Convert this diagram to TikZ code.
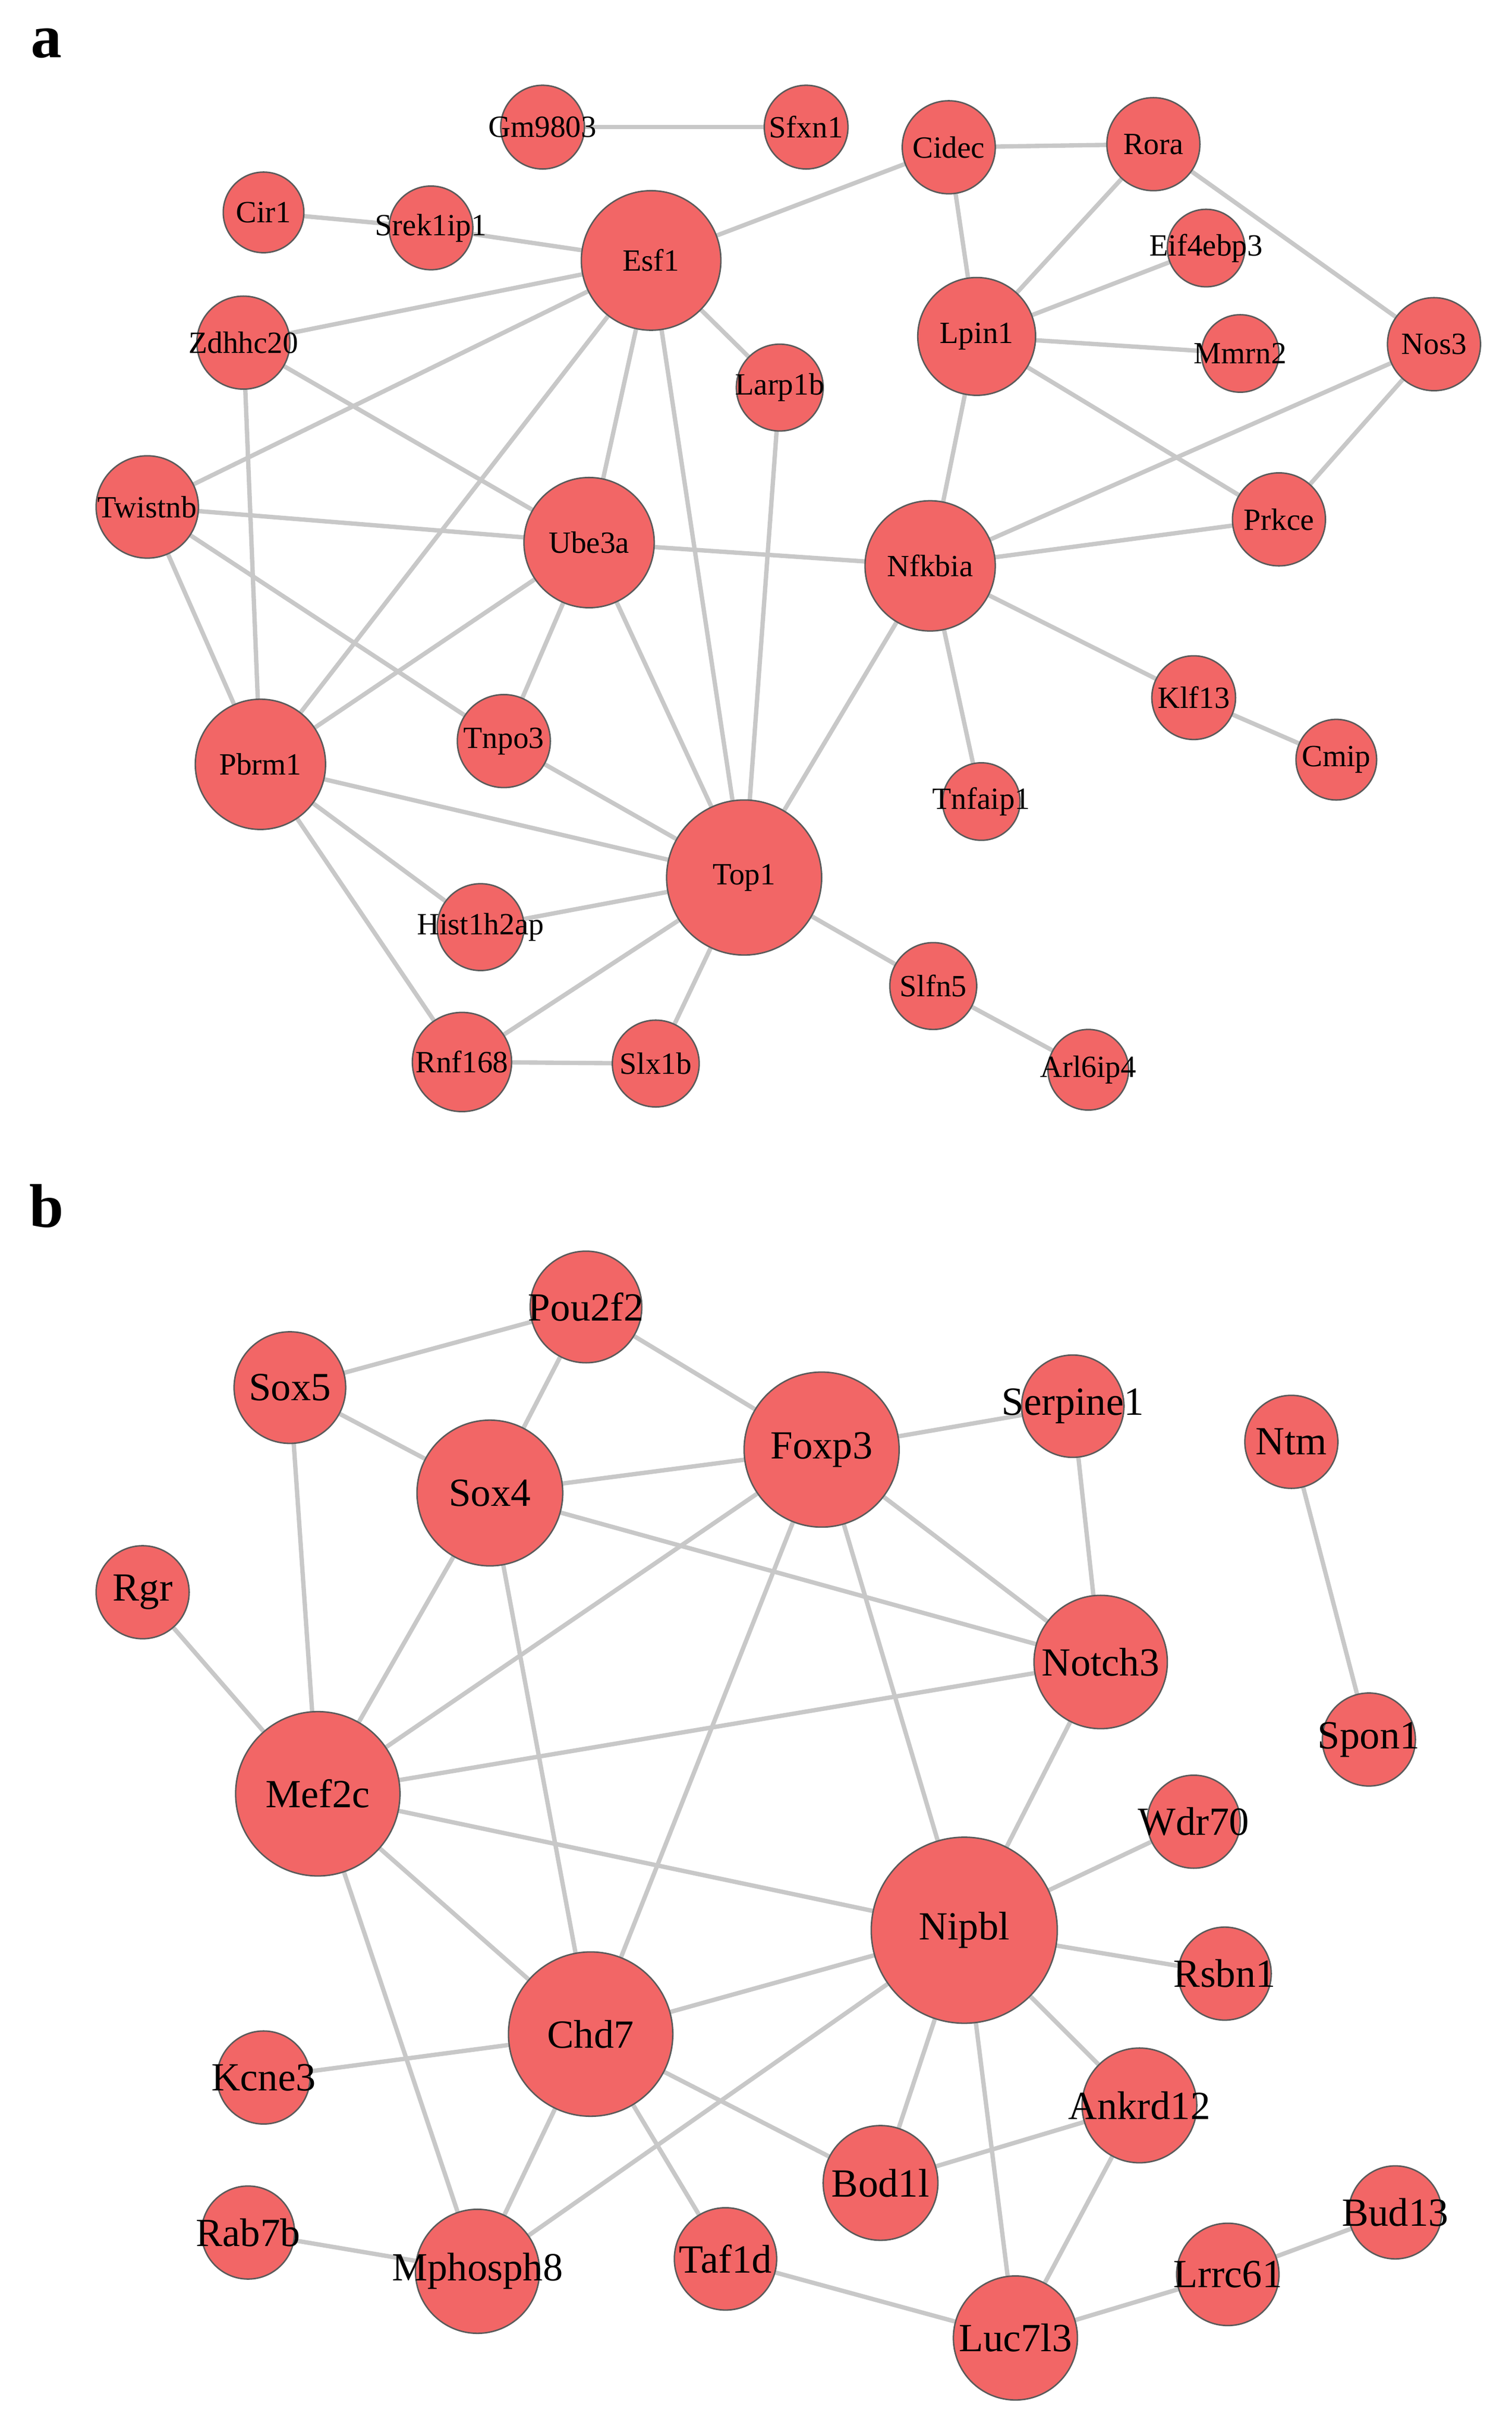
\documentclass[tikz,border=0pt]{standalone}
\usepackage{fontspec}
\setmainfont{Liberation Serif}
\usetikzlibrary{backgrounds}
\definecolor{nodefill}{HTML}{F26666}
\definecolor{edgecol}{HTML}{C8C8C8}
\definecolor{bordercol}{HTML}{5A5A5A}
\tikzset{
  gn/.style={circle,draw=bordercol,line width=0.8pt,fill=nodefill,inner sep=0pt},
  ed/.style={draw=edgecol,line width=2.4pt},
  lab/.style={font=\bfseries\fontsize{34}{34}\selectfont}
}
\newcommand{\na}[5]{\node[gn,minimum size=#4*0.06cm,label={[font=\fontsize{17}{17}\selectfont,inner sep=0pt]center:#5}] (#1) at (#2*0.03,-#3*0.03) {};}
\newcommand{\nb}[5]{\node[gn,minimum size=#4*0.06cm,label={[font=\fontsize{22}{22}\selectfont,inner sep=0pt]center:#5}] (#1) at (#2*0.03,-#3*0.03) {};}
\begin{document}
\begin{tikzpicture}
\useasboundingbox (0,0) rectangle (975*0.03,-1570.6*0.03);
\node[lab] (la) at (30*0.03,-28*0.03) {a};
\node[lab] (lb) at (30*0.03,-778*0.03) {b};
% panel a
\na{Gm9803}{350}{82}{27}{Gm9803}
\na{Sfxn1}{520}{82}{27}{Sfxn1}
\na{Cidec}{612}{95}{30}{Cidec}
\na{Rora}{744}{93}{30}{Rora}
\na{Cir1}{170}{137}{26}{Cir1}
\na{Srek1ip1}{278}{147}{27}{Srek1ip1}
\na{Esf1}{420}{168}{45}{Esf1}
\na{Eif4ebp3}{778}{160}{25}{Eif4ebp3}
\na{Lpin1}{630}{217}{38}{Lpin1}
\na{Mmrn2}{800}{228}{25}{Mmrn2}
\na{Nos3}{925}{222}{30}{Nos3}
\na{Zdhhc20}{157}{221}{30}{Zdhhc20}
\na{Larp1b}{503}{250}{28}{Larp1b}
\na{Twistnb}{95}{327}{33}{Twistnb}
\na{Ube3a}{380}{350}{42}{Ube3a}
\na{Nfkbia}{600}{365}{42}{Nfkbia}
\na{Prkce}{825}{335}{30}{Prkce}
\na{Klf13}{770}{450}{27}{Klf13}
\na{Cmip}{862}{490}{26}{Cmip}
\na{Tnpo3}{325}{478}{30}{Tnpo3}
\na{Pbrm1}{168}{493}{42}{Pbrm1}
\na{Tnfaip1}{633}{517}{25}{Tnfaip1}
\na{Top1}{480}{566}{50}{Top1}
\na{Hist1h2ap}{310}{598}{28}{Hist1h2ap}
\na{Slfn5}{602}{636}{28}{Slfn5}
\na{Arl6ip4}{702}{690}{26}{Arl6ip4}
\na{Rnf168}{298}{685}{32}{Rnf168}
\na{Slx1b}{423}{686}{28}{Slx1b}
% panel b
\nb{Pou2f2}{378}{843}{36}{Pou2f2}
\nb{Sox5}{187}{895}{36}{Sox5}
\nb{Foxp3}{530}{935}{50}{Foxp3}
\nb{Serpine1}{692}{907}{33}{Serpine1}
\nb{Ntm}{833}{930}{30}{Ntm}
\nb{Sox4}{316}{963}{47}{Sox4}
\nb{Rgr}{92}{1027}{30}{Rgr}
\nb{Notch3}{710}{1072}{43}{Notch3}
\nb{Spon1}{883}{1122}{30}{Spon1}
\nb{Mef2c}{205}{1157}{53}{Mef2c}
\nb{Wdr70}{770}{1175}{30}{Wdr70}
\nb{Nipbl}{622}{1245}{60}{Nipbl}
\nb{Rsbn1}{790}{1273}{30}{Rsbn1}
\nb{Chd7}{381}{1312}{53}{Chd7}
\nb{Kcne3}{170}{1340}{30}{Kcne3}
\nb{Ankrd12}{735}{1358}{37}{Ankrd12}
\nb{Bod1l}{568}{1408}{37}{Bod1l}
\nb{Rab7b}{160}{1440}{30}{Rab7b}
\nb{Mphosph8}{308}{1465}{40}{Mphosph8}
\nb{Taf1d}{468}{1457}{33}{Taf1d}
\nb{Luc7l3}{655}{1508}{40}{Luc7l3}
\nb{Lrrc61}{792}{1467}{33}{Lrrc61}
\nb{Bud13}{900}{1427}{30}{Bud13}
\begin{scope}[on background layer]
\fill[white] (0,0) rectangle (975*0.03,-1570.6*0.03);
\foreach \a/\b in {Gm9803/Sfxn1,Cidec/Rora,Cidec/Esf1,Cidec/Lpin1,Rora/Lpin1,Rora/Nos3,Cir1/Srek1ip1,Srek1ip1/Esf1,Esf1/Zdhhc20,Esf1/Twistnb,Esf1/Larp1b,Esf1/Ube3a,Esf1/Pbrm1,Esf1/Top1,Lpin1/Eif4ebp3,Lpin1/Mmrn2,Lpin1/Prkce,Lpin1/Nfkbia,Nos3/Nfkbia,Nos3/Prkce,Zdhhc20/Ube3a,Zdhhc20/Pbrm1,Twistnb/Ube3a,Twistnb/Pbrm1,Twistnb/Tnpo3,Larp1b/Top1,Ube3a/Nfkbia,Ube3a/Pbrm1,Ube3a/Tnpo3,Ube3a/Top1,Nfkbia/Prkce,Nfkbia/Klf13,Nfkbia/Tnfaip1,Nfkbia/Top1,Klf13/Cmip,Pbrm1/Top1,Pbrm1/Hist1h2ap,Pbrm1/Rnf168,Tnpo3/Top1,Top1/Hist1h2ap,Top1/Rnf168,Top1/Slx1b,Top1/Slfn5,Slfn5/Arl6ip4,Rnf168/Slx1b,
Pou2f2/Sox5,Pou2f2/Sox4,Pou2f2/Foxp3,Sox5/Sox4,Sox5/Mef2c,Foxp3/Serpine1,Foxp3/Sox4,Foxp3/Notch3,Foxp3/Mef2c,Foxp3/Chd7,Foxp3/Nipbl,Serpine1/Notch3,Ntm/Spon1,Sox4/Notch3,Sox4/Mef2c,Sox4/Chd7,Rgr/Mef2c,Notch3/Mef2c,Notch3/Nipbl,Mef2c/Nipbl,Mef2c/Chd7,Mef2c/Mphosph8,Nipbl/Wdr70,Nipbl/Rsbn1,Nipbl/Ankrd12,Nipbl/Bod1l,Nipbl/Chd7,Nipbl/Luc7l3,Nipbl/Mphosph8,Chd7/Kcne3,Chd7/Bod1l,Chd7/Taf1d,Chd7/Mphosph8,Ankrd12/Bod1l,Ankrd12/Luc7l3,Rab7b/Mphosph8,Taf1d/Luc7l3,Luc7l3/Lrrc61,Lrrc61/Bud13}
  \draw[ed] (\a.center) -- (\b.center);
\end{scope}
\end{tikzpicture}
\end{document}
